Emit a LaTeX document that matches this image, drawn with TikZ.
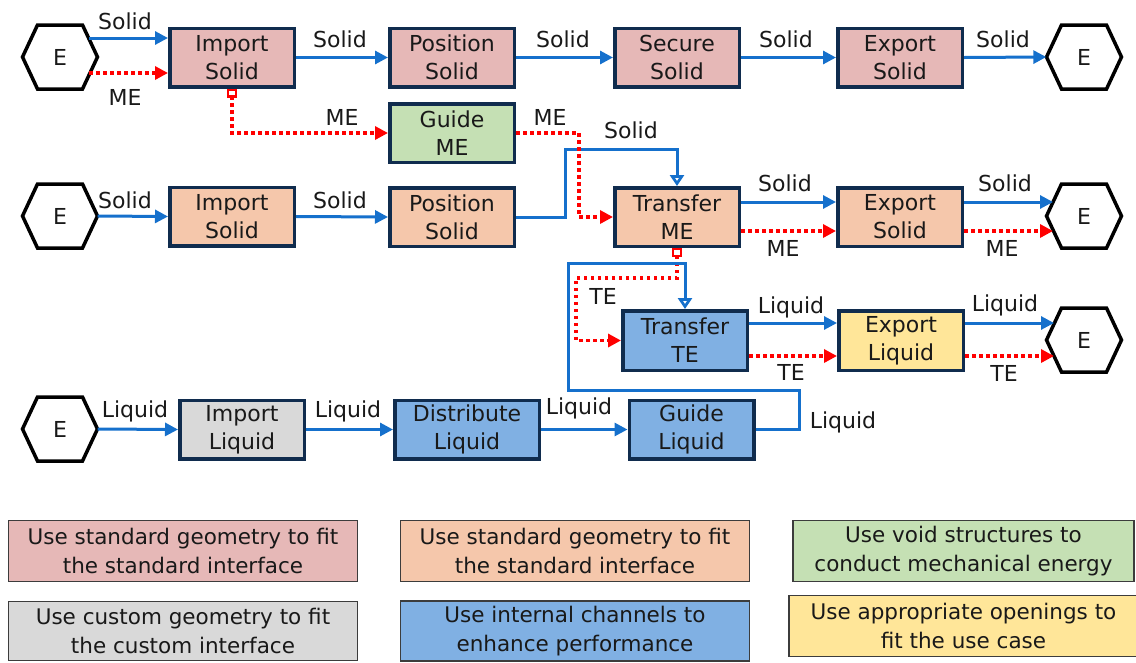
\documentclass[tikz,border=0pt]{standalone}
\usepackage{fontspec}
\setmainfont{DejaVu Sans}
\usetikzlibrary{arrows.meta,calc}
\definecolor{pinkc}{RGB}{230,184,183}
\definecolor{peachc}{RGB}{245,199,171}
\definecolor{greenc}{RGB}{197,224,180}
\definecolor{grayc}{RGB}{217,217,217}
\definecolor{bluec}{RGB}{128,176,227}
\definecolor{yellowc}{RGB}{255,230,153}
\definecolor{navy}{RGB}{16,44,78}
\definecolor{flowblue}{RGB}{21,112,204}
\definecolor{txt}{RGB}{25,25,25}
\definecolor{legline}{RGB}{60,60,60}
\newcommand\hexE[3]{%
  \node[hexin] (#1) at (#2,#3) {E};
  \draw[hexline] ($(#1)+(-37.5,0)$) -- ++(15,-32) -- ++(45,0) -- ++(15,32) -- ++(-15,32) -- ++(-45,0) -- cycle;}
\begin{document}
\begin{tikzpicture}[x=1pt,y=-1pt,
  font=\fontsize{22}{28}\selectfont, text=txt,
  fbox/.style={draw=navy,line width=3.5pt,minimum width=124.5pt,minimum height=58.5pt,align=center,inner sep=0pt},
  hexin/.style={minimum width=75pt,minimum height=64pt,inner sep=0pt},
  hexline/.style={draw=black,line width=3.5pt,line join=miter},
  lbl/.style={inner sep=0pt},
  legbox/.style={draw=legline,line width=1.4pt,minimum width=349pt,minimum height=61pt,align=center,inner sep=0pt,font=\fontsize{21.5}{29}\selectfont},
  solidflow/.style={draw=flowblue,line width=3pt,-{Triangle[length=13pt,width=13pt]}},
  hollowflow/.style={draw=flowblue,line width=3pt,-{Triangle[open,length=11pt,width=14pt,fill=white]}},
  meflow/.style={draw=red,line width=3.5pt,dash pattern=on 3.5pt off 3.5pt,-{Triangle[length=13pt,width=13pt]}},
  sqstart/.style={{Square[open,length=9pt,width=10pt,line width=2.2pt,fill=white]}-{Triangle[length=13pt,width=13pt]}}
]
\useasboundingbox (0,0) rectangle (1136,662);

% ---- hexagons
\hexE{e1}{60}{57}
\hexE{e2}{1084}{57}
\hexE{e3}{60}{216}
\hexE{e4}{1084}{216}
\hexE{e5}{1084}{340}
\hexE{e6}{60}{429}

% ---- function boxes
\node[fbox,fill=pinkc] (imps1) at (232,57.5) {Import\\Solid};
\node[fbox,fill=pinkc] (poss1) at (452,57.5) {Position\\Solid};
\node[fbox,fill=pinkc] (secs1) at (677,57.5) {Secure\\Solid};
\node[fbox,fill=pinkc] (exps1) at (900,57.5) {Export\\Solid};
\node[fbox,fill=greenc] (guideme) at (452,133) {Guide\\ME};
\node[fbox,fill=peachc] (imps2) at (232,216.5) {Import\\Solid};
\node[fbox,fill=peachc] (poss2) at (452,217) {Position\\Solid};
\node[fbox,fill=peachc] (transme) at (677,217) {Transfer\\ME};
\node[fbox,fill=peachc] (exps2) at (900,217) {Export\\Solid};
\node[fbox,fill=bluec,minimum height=59.5pt] (transte) at (685,340.5) {Transfer\\TE};
\node[fbox,fill=yellowc,minimum height=59.5pt] (expl) at (901,340.5) {Export\\Liquid};
\node[fbox,fill=grayc] (impl) at (242,429.5) {Import\\Liquid};
\node[fbox,fill=bluec,minimum width=144.5pt] (distl) at (467,429.5) {Distribute\\Liquid};
\node[fbox,fill=bluec] (guidel) at (691.5,429.5) {Guide\\Liquid};

% ---- helper coordinates
\coordinate (e1s) at (89,38);
\coordinate (e1m) at (89,73);
\coordinate (e4s) at (1053,202);
\coordinate (e4m) at (1053,231);
\coordinate (e5s) at (1054,323);
\coordinate (e5m) at (1054,356);
\coordinate (k1) at (565,149);
\coordinate (k2) at (579,0);
\coordinate (k3) at (576,278);
\coordinate (k4) at (799,390);
\coordinate (k5) at (568,263);
\coordinate (ya) at (0,202);
\coordinate (yb) at (0,231);
\coordinate (yc) at (0,323);
\coordinate (yd) at (0,356);

% ---- row 1
\draw[solidflow] (e1s) -- (imps1.west |- e1s);
\draw[meflow] (e1m) -- (imps1.west |- e1m);
\draw[solidflow] (imps1.east) -- (poss1.west);
\draw[solidflow] (poss1.east) -- (secs1.west);
\draw[solidflow] (secs1.east) -- (exps1.west);
\draw[solidflow] (exps1.east) -- (e2.west);
\draw[meflow,sqstart] (imps1.south) -- (imps1.south |- guideme.west) -- (guideme.west);

% ---- row 2
\draw[solidflow] (e3.east) -- (imps2.west);
\draw[solidflow] (imps2.east) -- (poss2.west);
\draw[hollowflow] (poss2.east) -- (poss2.east -| k1) -- (k1) -- (k1 -| transme.north) -- (transme.north);
\draw[meflow] (guideme.east) -- (k2 |- guideme.east) -- (k2 |- transme.west) -- (transme.west);
\draw[solidflow] (transme.east |- ya) -- (exps2.west |- ya);
\draw[meflow] (transme.east |- yb) -- (exps2.west |- yb);
\draw[solidflow] (exps2.east |- ya) -- (e4s);
\draw[meflow] (exps2.east |- yb) -- (e4m);

% ---- row 3
\draw[meflow,sqstart] (transme.south) -- (transme.south |- k3) -- (k3) -- (k3 |- transte.west) -- (transte.west);
\draw[solidflow] (transte.east |- yc) -- (expl.west |- yc);
\draw[meflow] (transte.east |- yd) -- (expl.west |- yd);
\draw[solidflow] (expl.east |- yc) -- (e5s);
\draw[meflow] (expl.east |- yd) -- (e5m);

% ---- row 4
\draw[solidflow] (e6.east) -- (impl.west);
\draw[solidflow] (impl.east) -- (distl.west);
\draw[solidflow] (distl.east) -- (guidel.west);
\draw[hollowflow] (guidel.east) -- (k4 |- guidel.east) -- (k4) -- (k5 |- k4) -- (k5) -- (transte.north |- k5) -- (transte.north);

% ---- labels
\node[lbl] (l1) at (125,21) {Solid};
\node[lbl] (l2) at (125,97) {ME};
\node[lbl] (l3) at (340,39) {Solid};
\node[lbl] (l4) at (563,39) {Solid};
\node[lbl] (l5) at (786,39) {Solid};
\node[lbl] (l6) at (1003,39) {Solid};
\node[lbl] (l7) at (342,117) {ME};
\node[lbl] (l8) at (550,117) {ME};
\node[lbl] (l9) at (631,130) {Solid};
\node[lbl] (l10) at (125,200) {Solid};
\node[lbl] (l11) at (340,200) {Solid};
\node[lbl] (l12) at (785,183) {Solid};
\node[lbl] (l13) at (783,248) {ME};
\node[lbl] (l14) at (1005,183) {Solid};
\node[lbl] (l15) at (1002,248) {ME};
\node[lbl] (l16) at (603,296) {TE};
\node[lbl] (l17) at (791,307) {Liquid};
\node[lbl] (l18) at (791,372) {TE};
\node[lbl] (l19) at (1005,305) {Liquid};
\node[lbl] (l20) at (1004,373) {TE};
\node[lbl] (l21) at (135,411) {Liquid};
\node[lbl] (l22) at (348,411) {Liquid};
\node[lbl] (l23) at (579,408) {Liquid};
\node[lbl] (l24) at (843,422) {Liquid};

% ---- legend
\node[legbox,fill=pinkc] (lg1) at (183,551) {Use standard geometry to fit\\the standard interface};
\node[legbox,fill=peachc] (lg2) at (575,551) {Use standard geometry to fit\\the standard interface};
\node[legbox,fill=greenc,minimum width=341pt] (lg3) at (963.5,551) {Use void structures to\\conduct mechanical energy};
\node[legbox,fill=grayc,minimum height=59pt] (lg4) at (183,631) {Use custom geometry to fit\\the custom interface};
\node[legbox,fill=bluec,minimum height=60pt] (lg5) at (575,631) {Use internal channels to\\enhance performance};
\node[legbox,fill=yellowc] (lg6) at (963.5,626) {Use appropriate openings to\\fit the use case};
\end{tikzpicture}
\end{document}
